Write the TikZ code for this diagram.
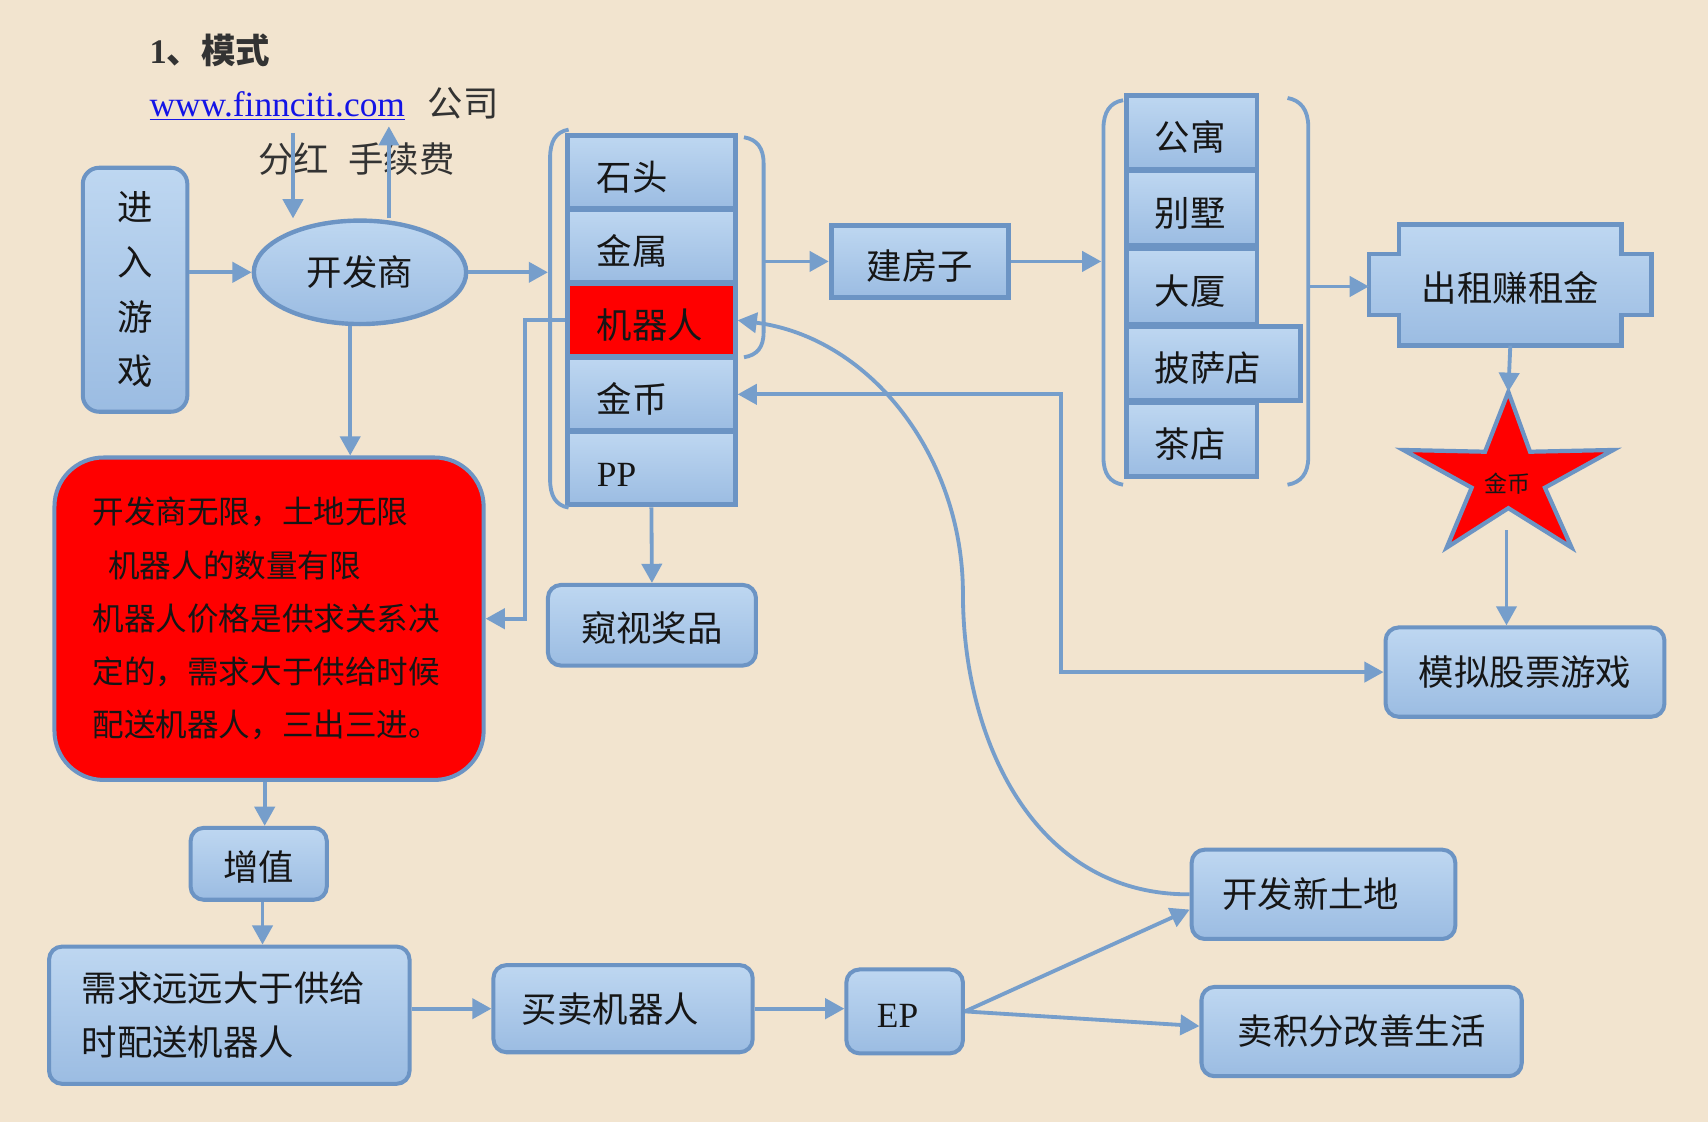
\documentclass[tikz,border=0pt]{standalone}
\usepackage{fontspec}
\setmainfont{Liberation Serif}
\newfontfamily\cjk{Noto Sans CJK SC}
\usetikzlibrary{arrows.meta,calc,shapes.geometric}
\definecolor{bg}{RGB}{242,228,207}
\definecolor{btop}{RGB}{190,215,241}
\definecolor{bbot}{RGB}{155,188,226}
\definecolor{edge}{RGB}{108,148,196}
\definecolor{lc}{RGB}{118,158,203}
\definecolor{urlc}{RGB}{20,20,230}
\definecolor{txt}{RGB}{22,22,22}
\newcommand\cjkf{\cjk\fontsize{18.5}{22}\selectfont}
\tikzset{
  sz/.style 2 args={minimum width=#1*0.02cm, minimum height=#2*0.02cm},
  blu/.style={top color=btop, bottom color=bbot},
  rbox/.style={draw=edge, line width=2.1pt, rounded corners=0.24cm, inner sep=0pt, text=txt, font=\cjkf},
  sbox/.style={draw=edge, line width=2.5pt, inner sep=0pt, text=txt, font=\cjkf, text height=21pt, text depth=2.2pt},
  low/.style={text height=19.5pt, text depth=2.2pt},
  stkone/.style={text width=2.0cm, inner xsep=0.54cm, align=left},
  stktwo/.style={text width=1.36cm, inner xsep=0.52cm, align=left},
  ell/.style={ellipse, draw=edge, line width=2.3pt, blu, inner sep=0pt, text=txt, font=\cjkf},
  arr/.style={draw=lc, line width=2pt, -{Triangle[length=10pt,width=10.5pt]}},
  darr/.style={draw=lc, line width=2pt, {Triangle[length=10pt,width=10.5pt]}-{Triangle[length=10pt,width=10.5pt]}},
  brk/.style={draw=lc, line width=2pt},
  plain/.style={inner sep=0pt, text=black!80},
}
\begin{document}
\begin{tikzpicture}[x=0.02cm,y=-0.02cm]
\useasboundingbox (0,0) rectangle (1568,1030);
\fill[bg] (0,0) rectangle (1568,1030);

% header texts
\node[plain, anchor=west, font=\fontsize{18}{22}\selectfont] (title) at (137,46) {\bfseries 1{\cjk 、模式}};
\node[plain, anchor=base west, font=\fontsize{18.5}{22}\selectfont] (url) at (137,107)
  {{\color{urlc}\underline{www.finnciti.com}}\hspace{12pt}{\cjk 公司}};
\node[plain, anchor=west, font=\cjkf] (fee) at (237,146) {分红\hspace{10pt}手续费};
\coordinate (c1) at (269,122);
\coordinate (c2) at (357,116);

% left part
\node[rbox, blu, rounded corners=0.3cm, sz={96}{224}, align=center, font=\cjk\fontsize{18.5}{28.5}\selectfont] (enter) at (124,266) {进\\入\\游\\戏};
\node[ell, minimum width=3.9cm, minimum height=1.9cm] (dev) at (330.5,250) {开发商};

% stack 1
\node[sbox, blu, sz={154}{67}, stkone] (stone) at (598,158) {石头};
\node[sbox, blu, sz={154}{67}, stkone] (metal) at (598,226) {金属};
\node[sbox, fill=red, sz={154}{67}, stkone] (robot) at (598,294) {机器人};
\node[sbox, blu, sz={154}{67}, stkone] (coin) at (598,362) {金币};
\node[sbox, blu, sz={154}{67}, stkone] (pp) at (598,430) {\rmfamily PP};
\draw[brk] (522,119) .. controls (510,121) and (505,130) .. (505,145) -- (505,440) .. controls (505,455) and (510,464) .. (522,466);
\draw[brk] (683,126) .. controls (695,128) and (701,136) .. (701,150) -- (701,305) .. controls (701,319) and (695,326) .. (683,328);
\coordinate (lb1) at (503,250);
\coordinate (rb1) at (702,240);

\node[sbox, blu, sz={163}{66}] (build) at (844.5,240) {建房子};

% stack 2
\node[sbox, blu, sz={120}{68}, stktwo] (apt) at (1094,121.5) {公寓};
\node[sbox, blu, sz={120}{68}, stktwo] (villa) at (1094,191) {别墅};
\node[sbox, blu, sz={120}{70}, stktwo] (tower) at (1094,263) {大厦};
\node[sbox, blu, sz={160}{68}, stktwo, text width=2.16cm] (pizza) at (1114,334) {披萨店};
\node[sbox, blu, sz={120}{68}, stktwo] (tea) at (1094,403.5) {茶店};
\draw[brk] (1031,92) .. controls (1019,94) and (1013,103) .. (1013,118) -- (1013,420) .. controls (1013,435) and (1019,443) .. (1031,445);
\draw[brk] (1182,90) .. controls (1194,92) and (1201,101) .. (1201,116) -- (1201,420) .. controls (1201,435) and (1194,443) .. (1182,445);
\coordinate (lb2) at (1011,240);
\coordinate (rb2) at (1202,263);

% rent plaque
\shadedraw[top color=btop, bottom color=bbot, draw=edge, line width=2.3pt]
  (1284.5,206) -- (1488.5,206) -- (1488.5,233) -- (1516,233) -- (1516,289) -- (1488.5,289)
  -- (1488.5,317) -- (1284.5,317) -- (1284.5,289) -- (1257,289) -- (1257,233) -- (1284.5,233) -- cycle;
\node[sz={259}{111}, inner sep=0pt, text=txt, font=\cjkf, low] (rent) at (1386.5,261.5) {出租赚租金};

% star
\filldraw[fill=red, draw=edge, line width=2.2pt] (1384.7,359.7) -- (1404.6,414.7) -- (1481,413.1) -- (1418.3,447.7)
  -- (1442.8,502.7) -- (1384.7,466.5) -- (1328.1,502.7) -- (1351,447.7) -- (1288.3,413.1) -- (1363.3,414.7) -- cycle;
\node[inner sep=0pt, text=txt, font=\cjk\fontsize{12}{14}\selectfont] (starc) at (1384,444) {金币};
\coordinate (sttop) at (1384.7,359.7);
\coordinate (stbot) at (1383,487);

\node[rbox, blu, sz={256}{82}] (stock) at (1400,617) {模拟股票游戏};
\node[rbox, blu, sz={191}{74}, low] (peek) at (598.5,574) {窥视奖品};

\node[rbox, fill=red, sz={394}{296}, rounded corners=0.9cm, text width=6.48cm, inner xsep=0.7cm, align=left,
  font=\cjk\fontsize{16.5}{27.8}\selectfont] (rule) at (247,568)
  {开发商无限，土地无限\\\hspace*{0.5em}机器人的数量有限\\机器人价格是供求关系决\\定的，需求大于供给时候\\配送机器人，三出三进。};

\node[rbox, blu, sz={125}{66}, low] (zz) at (237.5,793) {增值};
\node[rbox, blu, sz={331}{126}, text width=5.42cm, inner xsep=0.6cm, align=left, font=\cjk\fontsize{18.5}{28.3}\selectfont] (demand) at (210.5,932) {需求远远大于供给\\时配送机器人};
\node[rbox, blu, sz={238}{80}, text width=3.72cm, inner xsep=0.5cm, align=left] (trade) at (572,926) {买卖机器人};
\node[rbox, blu, sz={107}{77}, low, text width=1.02cm, inner xsep=0.56cm, align=left] (ep) at (830.5,928.5) {\rmfamily EP};
\node[rbox, blu, sz={242}{82}, text width=3.72cm, inner xsep=0.56cm, align=left] (newland) at (1215,821) {开发新土地};
\node[rbox, blu, sz={294}{82}] (sell) at (1250,947) {卖积分改善生活};

% connectors
\draw[arr] (c1) -- (c1 |- dev.north);
\draw[arr] (c2 |- dev.north) -- (c2);
\draw[arr] (enter.east |- dev.west) -- (dev.west);
\draw[arr] (dev.east) -- (dev.east -| lb1);
\draw[arr] ([xshift=-0.18cm]dev.south) -- ([xshift=-0.18cm]dev.south |- rule.north);
\draw[arr] (rb1) -- (build.west);
\draw[arr] (build.east) -- (lb2);
\draw[arr] (rb2) -- (rent.west |- rb2);
\draw[arr] (rent.south) -- (sttop);
\draw[arr] (stbot) -- (stbot |- stock.north);
\draw[darr] (coin.east) -- ++(297,0) |- (stock.west);
\draw[arr] (robot.west) -- ++(-37,0) |- (rule.east);
\draw[arr] (pp.south) -- (peek.north);
\draw[arr] ([xshift=-0.08cm]rule.south) -- ([xshift=-0.08cm]rule.south |- zz.north);
\draw[arr] ([xshift=0.07cm]zz.south) -- ([xshift=0.07cm]zz.south |- demand.north);
\draw[arr] (demand.east |- trade.west) -- (trade.west);
\draw[arr] (trade.east) -- (trade.east -| ep.west);
\draw[arr] (ep.east) -- ($(newland.west)+(0,14)$);
\draw[arr] (ep.east) -- ($(sell.west)+(0,-5)$);
\draw[arr] (newland.west) .. controls (950,822) and (884,680) .. (884,545) .. controls (884,420) and (800,310) .. (robot.east);
\end{tikzpicture}
\end{document}
